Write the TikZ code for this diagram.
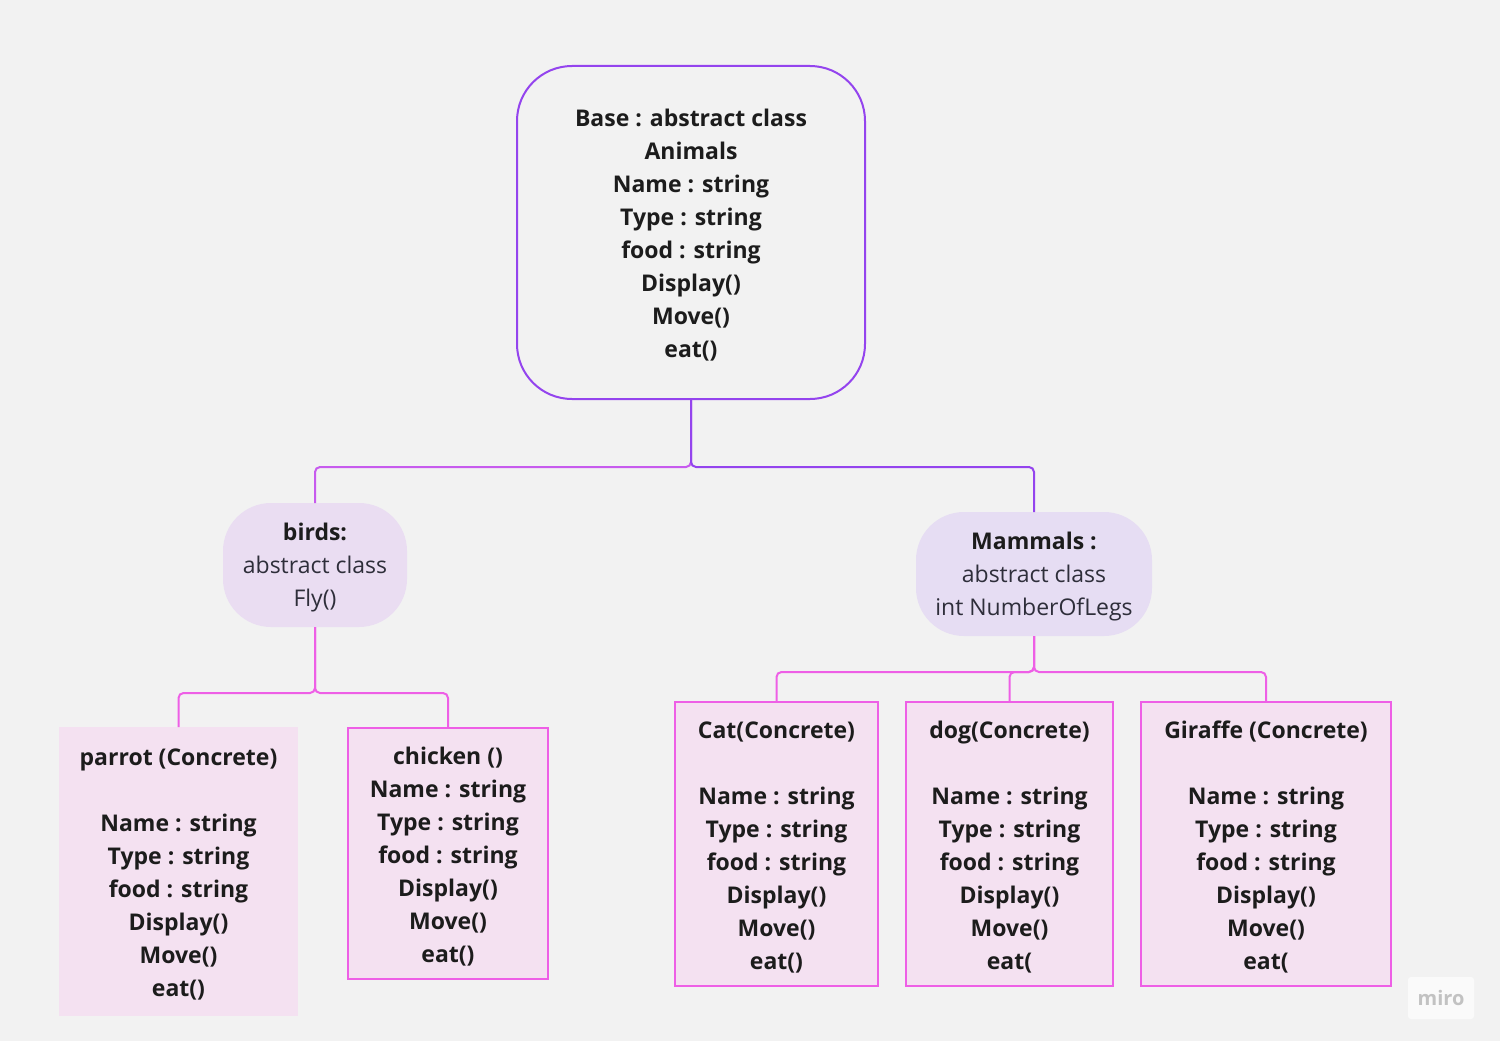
\documentclass[tikz,border=0pt]{standalone}
\usepackage{fontspec}
\setmainfont{Open Sans}
\usetikzlibrary{positioning}
\definecolor{bg}{HTML}{F2F2F2}
\definecolor{violetline}{HTML}{9444EE}
\definecolor{mixline}{HTML}{C75BEE}
\definecolor{pinkline}{HTML}{EE5FE6}
\definecolor{concfill}{HTML}{F4E1F1}
\definecolor{birdfill}{HTML}{EADDF2}
\definecolor{mamfill}{HTML}{E6DDF3}
\definecolor{txt}{HTML}{1C1C1C}
\definecolor{txtlight}{HTML}{2E2E3A}
\newcommand\mytopstrut{\rule{0pt}{23.5pt}}
\tikzset{
  every node/.style={inner sep=0pt, outer sep=0pt, align=center, text=txt,
    font=\fontsize{23}{33}\selectfont},
  basebox/.style={draw=violetline, line width=2pt, rounded corners=55pt, fill=bg},
  absbox/.style={rounded corners=48pt},
  concbox/.style={draw=pinkline, line width=2pt, fill=concfill, font=\fontsize{23}{33}\selectfont\bfseries},
  plainconc/.style={fill=concfill, font=\fontsize{23}{33}\selectfont\bfseries},
  conn/.style={line width=2pt, rounded corners=5pt},
}
\begin{document}
\begin{tikzpicture}[x=1pt,y=-1pt]
\fill[bg] (0,0) rectangle (1500,1041);
\useasboundingbox (0,0) rectangle (1500,1041);

% top abstract class
\node[basebox, minimum width=348pt, minimum height=333pt, font=\fontsize{23}{33}\selectfont\bfseries] (base) at (691,232.5)
  {\mytopstrut Base : abstract class\\Animals\\Name : string\\Type : string\\food : string\\Display()\\Move()\\eat()};

% abstract subclasses
\node[absbox, fill=birdfill, minimum width=184pt, minimum height=124pt] (birds) at (315,565)
  {\mytopstrut\textbf{birds:}\\\textcolor{txtlight}{abstract class}\\\textcolor{txtlight}{Fly()}};
\node[absbox, fill=mamfill, minimum width=236pt, minimum height=124pt] (mammals) at (1034,574)
  {\mytopstrut\textbf{Mammals :}\\\textcolor{txtlight}{abstract class}\\\textcolor{txtlight}{int NumberOfLegs}};

% concrete classes
\node[plainconc, minimum width=239pt, minimum height=289pt] (parrot) at (178.5,871.5)
  {\mytopstrut parrot (Concrete)\\[33pt]Name : string\\Type : string\\food : string\\Display()\\Move()\\eat()};
\node[concbox, minimum width=200pt, minimum height=251pt] (chicken) at (448,853.5)
  {\mytopstrut chicken ()\\Name : string\\Type : string\\food : string\\Display()\\Move()\\eat()};
\node[concbox, minimum width=203pt, minimum height=284pt] (cat) at (776.5,844)
  {\mytopstrut Cat(Concrete)\\[33pt]Name : string\\Type : string\\food : string\\Display()\\Move()\\eat()};
\node[concbox, minimum width=207pt, minimum height=284pt] (dog) at (1009.5,844)
  {\mytopstrut dog(Concrete)\\[33pt]Name : string\\Type : string\\food : string\\Display()\\Move()\\eat(};
\node[concbox, minimum width=250pt, minimum height=284pt] (giraffe) at (1266,844)
  {\mytopstrut Giraffe (Concrete)\\[33pt]Name : string\\Type : string\\food : string\\Display()\\Move()\\eat(};

% junctions
\coordinate (j1) at (691,467);
\coordinate (j2) at (315,693);
\coordinate (j3) at (1034,672);

% connectors
\draw[conn, draw=mixline] (base.south) -- (j1) -| (birds.north);
\draw[conn, draw=violetline] (base.south) -- (j1) -| (mammals.north);
\draw[conn, draw=pinkline] (birds.south) -- (j2) -| (parrot.north);
\draw[conn, draw=pinkline] (birds.south) -- (j2) -| (chicken.north);
\draw[conn, draw=pinkline] (mammals.south) -- (j3) -| (cat.north);
\draw[conn, draw=pinkline] (mammals.south) -- (j3) -| (dog.north);
\draw[conn, draw=pinkline] (mammals.south) -- (j3) -| (giraffe.north);

% watermark
\node[fill=white!60!bg, rounded corners=3pt, minimum width=66pt, minimum height=42pt,
  text=black!24, font=\fontsize{20}{22}\selectfont\bfseries] (miro) at (1441,998) {miro};
\end{tikzpicture}
\end{document}
